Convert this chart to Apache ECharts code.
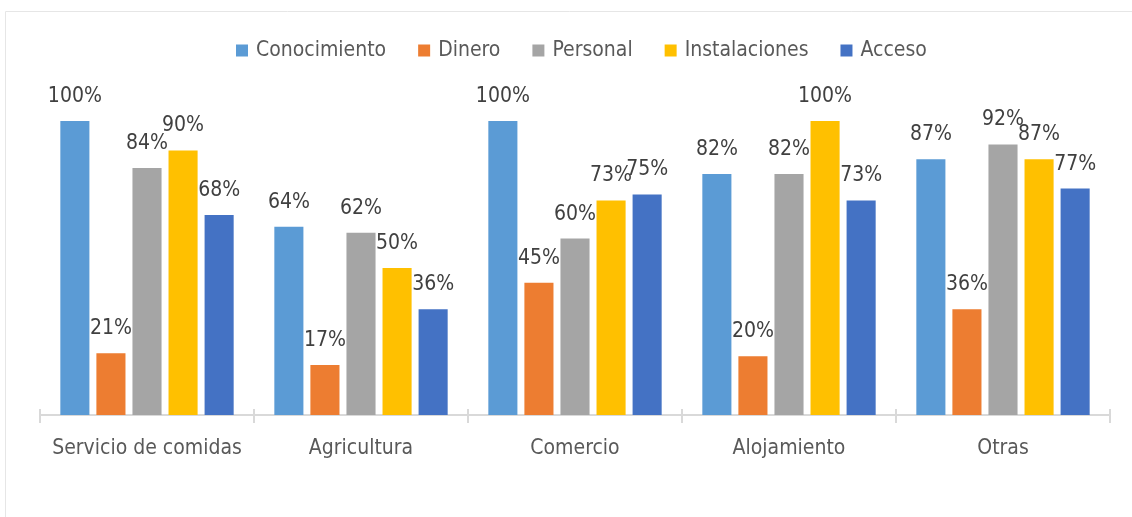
<!DOCTYPE html>
<html><head><meta charset="utf-8">
<script src="https://cdn.jsdelivr.net/npm/echarts@6/dist/echarts.min.js"></script>
<style>html,body{margin:0;padding:0;background:#fff}#c{width:1132px;height:517px}</style>
</head><body><div id="c"></div>
<script>
const categories = ["Servicio de comidas", "Agricultura", "Comercio", "Alojamiento", "Otras"];
const seriesNames = ["Conocimiento", "Dinero", "Personal", "Instalaciones", "Acceso"];
const conocimiento = [100, 64, 100, 82, 87];
const dinero = [21, 17, 45, 20, 36];
const personal = [84, 62, 60, 82, 92];
const instalaciones = [90, 50, 73, 100, 87];
const acceso = [68, 36, 75, 73, 77];
const colors = ["#5B9BD5", "#ED7D31", "#A5A5A5", "#FFC000", "#4472C4"];
const values = [conocimiento, dinero, personal, instalaciones, acceso];

const FONT = "'Liberation Sans Narrow', 'DejaVu Sans Condensed', 'Liberation Sans'";
const chart = echarts.init(document.getElementById('c'));
chart.setOption({
  animation: false,
  textStyle: { fontFamily: FONT },
  graphic: [{ type: 'rect', shape: { x: 5.5, y: 11.5, width: 1140, height: 520 }, style: { fill: 'none', stroke: '#e6e6e6', lineWidth: 1 } }],
  legend: {
    top: 35, left: 231, itemWidth: 12, itemHeight: 12, itemGap: 32,
    icon: 'rect',
    textStyle: { fontSize: 21, color: '#595959', fontFamily: FONT, padding: [0, 0, 0, 3] },
    data: seriesNames
  },
  grid: { left: 40, right: 22, top: 121, bottom: 102, containLabel: false },
  xAxis: [{
    type: 'category', data: categories,
    axisLine: { lineStyle: { color: '#d9d9d9', width: 2 } },
    axisTick: { show: true, length: 8, lineStyle: { color: '#d9d9d9', width: 2 } },
    axisLabel: { interval: 0, fontSize: 21, color: '#595959', margin: 23, fontFamily: FONT }
  }, {
    type: 'category', data: categories, position: 'bottom',
    axisLine: { show: false },
    axisTick: { show: true, inside: true, length: 6, lineStyle: { color: '#d9d9d9', width: 2 } },
    axisLabel: { show: false }
  }],
  yAxis: { type: 'value', min: 0, max: 100, show: false, splitLine: { show: false } },
  series: seriesNames.map((n, i) => ({
    name: n, type: 'bar', data: values[i], xAxisIndex: 0,
    itemStyle: { color: colors[i] },
    barGap: '24%', barCategoryGap: '19%',
    label: { show: true, position: 'top', distance: 14, formatter: '{c}%', fontSize: 21, color: '#404040', fontFamily: FONT }
  }))
});
</script></body></html>
